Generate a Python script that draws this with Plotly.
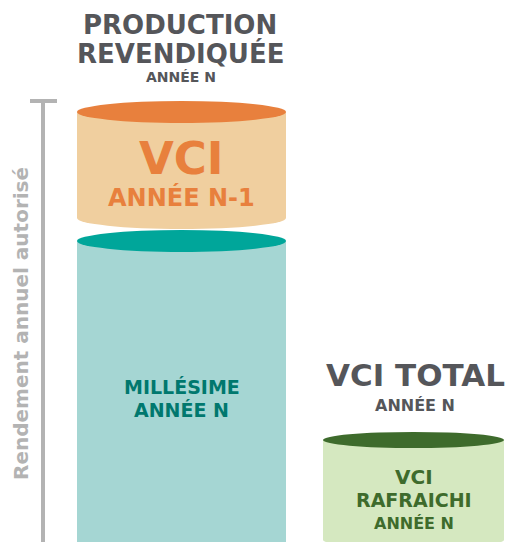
import plotly.graph_objects as go

# ---- data (in chart units: 0 = bottom of chart) ----
segments = ["VCI ANNÉE N-1", "MILLÉSIME ANNÉE N", "VCI RAFRAICHI ANNÉE N"]
bases = [324, 0, 2]
heights = [106, 301, 100]
x_centers = [181.5, 181.5, 413.5]
widths = [209, 209, 181]
top_colors = ["#e8803d", "#00a69a", "#3e6b2c"]
body_colors = ["#f0cf9f", "#a5d6d3", "#d5e8c0"]
ellipse_ry = [11, 11, 8]
axis_top = 441
axis_label = "Rendement annuel autorisé"

FONT = "DejaVu Sans"
GRAY = "#55565a"

fig = go.Figure()
fig.add_trace(go.Bar(
    x=x_centers, y=heights, base=bases, width=widths,
    marker=dict(color=body_colors, line=dict(width=0)),
    hoverinfo="skip", showlegend=False,
))

shapes = []
for xc, w, b, h, tc, bc, ry in zip(x_centers, widths, bases, heights, top_colors, body_colors, ellipse_ry):
    shapes.append(dict(type="circle", xref="x", yref="y",
                       x0=xc - w / 2, x1=xc + w / 2, y0=b - ry, y1=b + ry,
                       fillcolor=bc, line=dict(width=0), layer="below"))
    top = b + h
    shapes.append(dict(type="circle", xref="x", yref="y",
                       x0=xc - w / 2, x1=xc + w / 2, y0=top - ry, y1=top + ry,
                       fillcolor=tc, line=dict(width=0), layer="above"))

shapes.append(dict(type="line", xref="x", yref="y", x0=43, x1=43, y0=-5, y1=axis_top,
                   line=dict(color="#b3b3b3", width=4)))
shapes.append(dict(type="line", xref="x", yref="y", x0=30, x1=57, y0=axis_top, y1=axis_top,
                   line=dict(color="#b3b3b3", width=4)))

def ann(text, x, y, size, color, angle=0):
    return dict(text=f"<b>{text}</b>", x=x, y=y, xref="x", yref="y", showarrow=False,
                font=dict(family=FONT, size=size, color=color), textangle=angle,
                xanchor="center", yanchor="middle")

annotations = [
    ann("PRODUCTION", 180, 542 - 25, 26, GRAY),
    ann("REVENDIQUÉE", 180, 542 - 53, 26, GRAY),
    ann("ANNÉE N", 181, 542 - 77, 14, GRAY),
    ann("VCI", 181.5, 542 - 158, 45, "#e8803d"),
    ann("ANNÉE N-1", 181.5, 542 - 197, 24, "#e8803d"),
    ann("MILLÉSIME", 181.5, 542 - 387, 19, "#00786e"),
    ann("ANNÉE N", 181.5, 542 - 410, 19, "#00786e"),
    ann("VCI TOTAL", 415, 542 - 375, 31, GRAY),
    ann("ANNÉE N", 415, 542 - 405, 16, GRAY),
    ann("VCI", 413.5, 542 - 477, 20, "#3e6b2c"),
    ann("RAFRAICHI", 413.5, 542 - 500, 19, "#3e6b2c"),
    ann("ANNÉE N", 413.5, 542 - 523, 16, "#3e6b2c"),
    ann(axis_label, 21, 542 - 324, 20, "#b3b3b3", angle=-90),
]

fig.update_layout(
    width=512, height=542,
    margin=dict(l=0, r=0, t=0, b=0),
    paper_bgcolor="white", plot_bgcolor="white",
    xaxis=dict(range=[0, 512], visible=False, fixedrange=True),
    yaxis=dict(range=[0, 542], visible=False, fixedrange=True),
    shapes=shapes, annotations=annotations,
    barmode="overlay",
)
fig.write_html("out.html", config={"displayModeBar": False},
               post_script="document.body.style.margin='0px';document.body.style.overflow='hidden';")
